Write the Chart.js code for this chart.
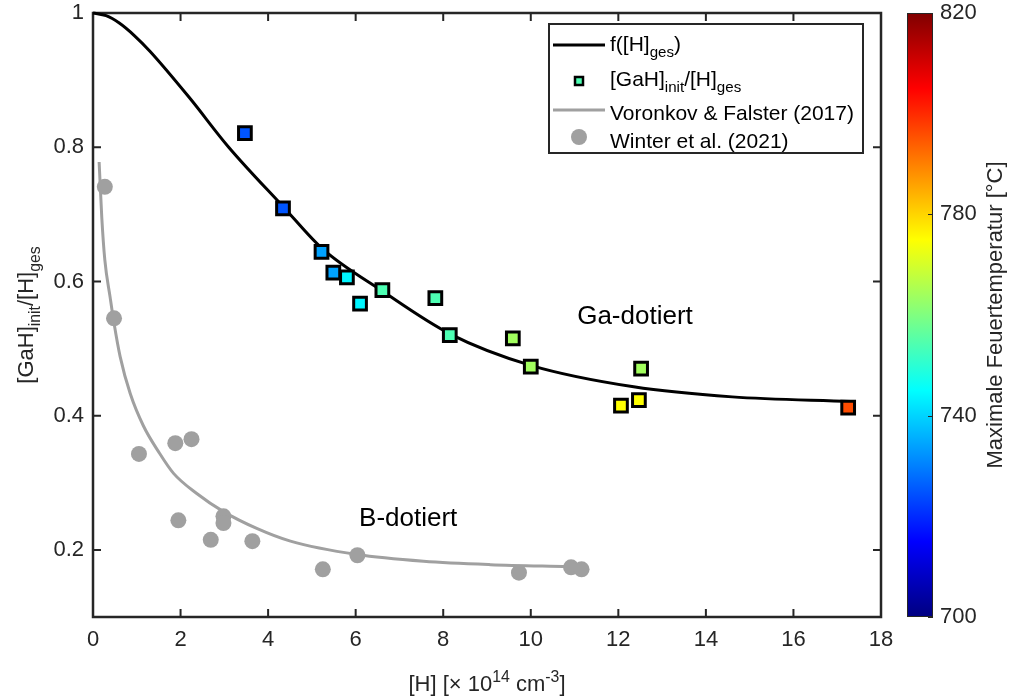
<!DOCTYPE html>
<html><head><meta charset="utf-8">
<script src="https://cdn.jsdelivr.net/npm/chart.js@4/dist/chart.umd.min.js"></script>
<style>html,body{margin:0;padding:0;background:#fff;}#wrap{width:1014px;height:700px;}</style>
</head><body><div id="wrap"><canvas id="c" width="1014" height="700"></canvas></div>
<script>
// ---- data ----
const fitX = [0, 0.3, 0.6, 0.95, 1.3, 2.2, 3.1, 4.35, 5.25, 6.6, 8.15, 10.0, 12.35, 14.6, 17.3];
const fitY = [1.0, 0.996, 0.985, 0.966, 0.943, 0.874, 0.800, 0.711, 0.648, 0.586, 0.522, 0.475, 0.443, 0.428, 0.421];

const gaX = [3.47, 4.34, 5.22, 5.49, 5.80, 6.10, 6.61, 7.82, 8.15, 9.59, 10.00, 12.06, 12.47, 12.52, 17.25];
const gaY = [0.821, 0.709, 0.644, 0.613, 0.606, 0.567, 0.587, 0.575, 0.520, 0.515, 0.473, 0.415, 0.423, 0.470, 0.412];
const gaTemp = [725, 725, 734, 734, 744, 744, 754, 754, 754, 764, 764, 775, 775, 764, 796];

const vfX = [0.14, 0.20, 0.27, 0.39, 0.48, 0.62, 0.85, 1.15, 1.50, 1.84, 2.37, 2.98, 3.74, 4.51, 6.03, 7.55, 9.08, 10.85];
const vfY = [0.778, 0.696, 0.632, 0.577, 0.538, 0.488, 0.433, 0.385, 0.346, 0.314, 0.284, 0.257, 0.232, 0.213, 0.193, 0.183, 0.178, 0.175];

const winX = [0.27, 0.48, 1.05, 1.88, 2.25, 1.95, 2.98, 2.98, 2.69, 3.64, 5.25, 6.04, 9.73, 10.92, 11.16];
const winY = [0.741, 0.545, 0.343, 0.359, 0.365, 0.244, 0.250, 0.240, 0.215, 0.213, 0.171, 0.192, 0.166, 0.174, 0.171];

const xTicks = [0, 2, 4, 6, 8, 10, 12, 14, 16, 18];
const xTickLabels = ['0', '2', '4', '6', '8', '10', '12', '14', '16', '18'];
const yTicks = [0.2, 0.4, 0.6, 0.8, 1];
const yTickLabels = ['0.2', '0.4', '0.6', '0.8', '1'];
const cbTicks = [700, 740, 780, 820];
const cbTickLabels = ['700', '740', '780', '820'];
const cbMin = 700, cbMax = 820;

const annotations = [
  {text: 'Ga-dotiert', x: 12.38, y: 0.537},
  {text: 'B-dotiert', x: 7.2, y: 0.2355}
];

// ---- styling ----
const F = "'Liberation Sans', Arial, Helvetica, sans-serif";
const INK = '#262626';
const GRAY = '#a0a0a0';

function jet(v) {
  const t = (v - cbMin) / (cbMax - cbMin);
  const c = x => Math.round(255 * Math.max(0, Math.min(1, x)));
  return `rgb(${c(1.5 - Math.abs(4 * t - 3))},${c(1.5 - Math.abs(4 * t - 2))},${c(1.5 - Math.abs(4 * t - 1))})`;
}

function rich(ctx, parts, x, y, size, align, color) {
  let w = 0;
  const items = parts.map(p => {
    const s = p.s ? size * 0.72 : size;
    ctx.font = `${s}px ${F}`;
    const m = ctx.measureText(p.t).width;
    w += m;
    return {t: p.t, s: p.s, size: s, w: m};
  });
  let cx = align === 'center' ? x - w / 2 : align === 'right' ? x - w : x;
  ctx.textAlign = 'left';
  ctx.textBaseline = 'alphabetic';
  ctx.fillStyle = color || '#000';
  items.forEach(it => {
    ctx.font = `${it.size}px ${F}`;
    const dy = it.s === 'sub' ? size * 0.3 : it.s === 'sup' ? -size * 0.42 : 0;
    ctx.fillText(it.t, cx, y + dy);
    cx += it.w;
  });
}

const decor = {
  id: 'decor',
  beforeDatasetsDraw(chart) {
    const {ctx, chartArea: a, scales: {x, y}} = chart;
    ctx.save();
    ctx.strokeStyle = INK;
    ctx.lineWidth = 2.5;
    ctx.strokeRect(a.left, a.top, a.right - a.left, a.bottom - a.top);
    const tl = 8;
    ctx.lineWidth = 2;
    ctx.beginPath();
    xTicks.forEach(v => {
      const p = x.getPixelForValue(v);
      ctx.moveTo(p, a.bottom); ctx.lineTo(p, a.bottom - tl);
      ctx.moveTo(p, a.top); ctx.lineTo(p, a.top + tl);
    });
    yTicks.forEach(v => {
      const p = y.getPixelForValue(v);
      ctx.moveTo(a.left, p); ctx.lineTo(a.left + tl, p);
      ctx.moveTo(a.right, p); ctx.lineTo(a.right - tl, p);
    });
    ctx.stroke();
    ctx.restore();
  },
  afterDraw(chart) {
    const {ctx, chartArea: a, scales: {x, y, cb}} = chart;
    ctx.save();
    // annotations
    annotations.forEach(an => {
      ctx.font = `26px ${F}`;
      ctx.fillStyle = '#000';
      ctx.textAlign = 'center';
      ctx.textBaseline = 'alphabetic';
      ctx.fillText(an.text, x.getPixelForValue(an.x), y.getPixelForValue(an.y));
    });
    // legend
    const L = {left: a.right - 332, top: a.top + 11, right: a.right - 18, bottom: a.top + 140};
    const T = a.top;
    ctx.fillStyle = '#fff';
    ctx.fillRect(L.left, L.top, L.right - L.left, L.bottom - L.top);
    ctx.strokeStyle = INK; ctx.lineWidth = 2;
    ctx.strokeRect(L.left, L.top, L.right - L.left, L.bottom - L.top);
    const lx0 = L.left + 4, lx1 = L.left + 56, mx = L.left + 30, tx = L.left + 61;
    ctx.lineWidth = 3; ctx.strokeStyle = '#000';
    ctx.beginPath(); ctx.moveTo(lx0, T + 32); ctx.lineTo(lx1, T + 32); ctx.stroke();
    rich(ctx, [{t: 'f([H]'}, {t: 'ges', s: 'sub'}, {t: ')'}], tx, T + 38, 21, 'left');
    ctx.fillStyle = jet(754); ctx.fillRect(mx - 4, T + 68 - 4, 8, 8);
    ctx.lineWidth = 2.5; ctx.strokeStyle = '#000'; ctx.strokeRect(mx - 4, T + 68 - 4, 8, 8);
    rich(ctx, [{t: '[GaH]'}, {t: 'init', s: 'sub'}, {t: '/[H]'}, {t: 'ges', s: 'sub'}], tx, T + 73, 21, 'left');
    ctx.lineWidth = 3; ctx.strokeStyle = GRAY;
    ctx.beginPath(); ctx.moveTo(lx0, T + 97); ctx.lineTo(lx1, T + 97); ctx.stroke();
    rich(ctx, [{t: 'Voronkov & Falster (2017)'}], tx, T + 107, 21, 'left');
    ctx.fillStyle = GRAY; ctx.beginPath(); ctx.arc(mx, T + 124, 8, 0, Math.PI * 2); ctx.fill();
    rich(ctx, [{t: 'Winter et al. (2021)'}], tx, T + 135, 21, 'left');

    // axis titles
    rich(ctx, [{t: '[H] [× 10'}, {t: '14', s: 'sup'}, {t: ' cm'}, {t: '-3', s: 'sup'}, {t: ']'}],
      (a.left + a.right) / 2, 691, 22, 'center', INK);
    ctx.save();
    ctx.translate(33, (a.top + a.bottom) / 2);
    ctx.rotate(-Math.PI / 2);
    rich(ctx, [{t: '[GaH]'}, {t: 'init', s: 'sub'}, {t: '/[H]'}, {t: 'ges', s: 'sub'}], 0, 0, 22, 'center', INK);
    ctx.restore();

    // colorbar
    const bx0 = cb.left + 26, bx1 = cb.left + 52;
    const yTop = cb.getPixelForValue(cbMax), yBot = cb.getPixelForValue(cbMin);
    const g = ctx.createLinearGradient(0, yBot, 0, yTop);
    for (let i = 0; i <= 24; i++) g.addColorStop(i / 24, jet(cbMin + (cbMax - cbMin) * i / 24));
    ctx.fillStyle = g;
    ctx.fillRect(bx0, yTop, bx1 - bx0, yBot - yTop);
    ctx.strokeStyle = INK; ctx.lineWidth = 1;
    ctx.strokeRect(bx0 + 0.5, yTop + 0.5, bx1 - bx0 - 1, yBot - yTop - 1);
    ctx.beginPath();
    cbTicks.forEach(v => {
      const p = Math.round(cb.getPixelForValue(v)) + 0.5;
      ctx.moveTo(bx1, p); ctx.lineTo(bx1 - 5, p);
    });
    ctx.stroke();
    ctx.save();
    ctx.translate(1002, (yTop + yBot) / 2);
    ctx.rotate(-Math.PI / 2);
    rich(ctx, [{t: 'Maximale Feuertemperatur [°C]'}], 0, 0, 22, 'center', INK);
    ctx.restore();
    ctx.restore();
  }
};

const tickFont = {size: 22, family: F, lineHeight: 1};

new Chart(document.getElementById('c'), {
  type: 'scatter',
  data: {
    datasets: [
      {
        label: 'Ga', data: gaX.map((v, i) => ({x: v, y: gaY[i]})),
        pointStyle: 'rect', pointRadius: 9, pointHoverRadius: 9,
        backgroundColor: gaTemp.map(jet), borderColor: '#000', borderWidth: 3, order: 0
      },
      {
        label: 'f', data: fitX.map((v, i) => ({x: v, y: fitY[i]})), showLine: true,
        borderColor: '#000', borderWidth: 3, pointRadius: 0, cubicInterpolationMode: 'monotone',
        clip: false, order: 1
      },
      {
        label: 'Winter', data: winX.map((v, i) => ({x: v, y: winY[i]})),
        pointStyle: 'circle', pointRadius: 8, backgroundColor: GRAY, borderWidth: 0, order: 2
      },
      {
        label: 'VF', data: vfX.map((v, i) => ({x: v, y: vfY[i]})), showLine: true,
        borderColor: GRAY, borderWidth: 3, pointRadius: 0, cubicInterpolationMode: 'monotone', order: 3
      }
    ]
  },
  options: {
    responsive: false, animation: false, devicePixelRatio: 1, events: [],
    layout: {padding: {top: 13, left: 0, right: 0, bottom: 0}},
    plugins: {legend: {display: false}, tooltip: {enabled: false}},
    scales: {
      x: {
        type: 'linear', position: 'bottom', min: 0, max: 18,
        grid: {display: false, drawTicks: true, tickLength: 12}, border: {display: false},
        afterBuildTicks: s => { s.ticks = xTicks.map(v => ({value: v})); },
        ticks: {padding: 0, color: INK, font: tickFont, maxRotation: 0, autoSkip: false,
          callback: v => xTickLabels[xTicks.indexOf(v)]},
        afterFit: s => { s.height = 83; }
      },
      y: {
        type: 'linear', position: 'left', min: 0.1, max: 1,
        grid: {display: false, drawTicks: true, tickLength: 9}, border: {display: false},
        afterBuildTicks: s => { s.ticks = yTicks.map(v => ({value: v})); },
        ticks: {padding: 0, color: INK, font: tickFont, autoSkip: false,
          callback: v => yTickLabels[yTicks.indexOf(v)]},
        afterFit: s => { s.width = 93; }
      },
      cb: {
        type: 'linear', position: 'right', min: cbMin, max: cbMax,
        grid: {display: false, drawTicks: true, tickLength: 59}, border: {display: false},
        afterBuildTicks: s => { s.ticks = cbTicks.map(v => ({value: v})); },
        ticks: {padding: 0, color: INK, font: tickFont, autoSkip: false,
          callback: v => cbTickLabels[cbTicks.indexOf(v)]},
        afterFit: s => { s.width = 133; }
      }
    }
  },
  plugins: [decor]
});
</script>
</body></html>
